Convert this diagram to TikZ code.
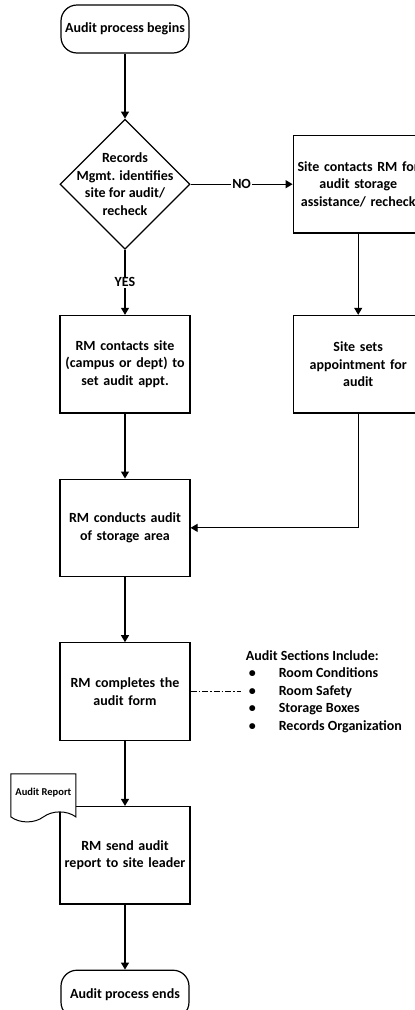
\documentclass[tikz,border=0pt]{standalone}
\usepackage{fontspec}
\setmainfont{Carlito}
\usetikzlibrary{shapes.geometric, shapes.symbols, arrows.meta, positioning}
\newcommand{\sectitem}[1]{\hspace*{3pt}\makebox[30pt][l]{\textbullet}#1}
\tikzset{
  block/.style={rectangle, draw=black, fill=white, line width=1.2pt,
                minimum width=130pt, minimum height=97.5pt,
                text width=124pt, align=center, inner sep=2pt},
  startstop/.style={rectangle, rounded corners=16pt, draw=black, fill=white,
                    line width=1.2pt, minimum width=128pt, minimum height=48pt,
                    inner xsep=2pt},
  decision/.style={diamond, draw=black, fill=white, line width=1.2pt,
                   minimum width=130pt, minimum height=130pt, inner sep=0pt},
  docnode/.style={tape, tape bend top=none, tape bend bottom=in and out,
                  tape bend height=10pt, draw=black, fill=white, line width=1pt,
                  minimum width=65pt, minimum height=48pt,
                  font=\fontsize{10.5}{12}\selectfont\bfseries},
  note/.style={align=left, inner sep=5pt},
  answer/.style={fill=white, inner sep=1pt},
  arrow/.style={-{Triangle[length=7pt, width=8pt]}, line width=1.2pt},
  link/.style={dash pattern=on 6pt off 2pt on 1.5pt off 2pt, line width=1pt},
}

\begin{document}
\begin{tikzpicture}[node distance=65pt, font=\fontsize{14}{17.5}\selectfont\bfseries]

  \useasboundingbox (-125pt,29pt) rectangle (290pt,-981pt);

  \node[startstop] (start) at (0,0) {Audit process begins};
  \node[decision, below=of start, label={[align=center]center:Records\\Mgmt. identifies\\site for audit/\\recheck}] (dec) {};
  \node[block, right=102pt of dec]  (site)    {Site contacts RM for\\audit storage\\assistance/ recheck};
  \node[block, below=of dec]        (contact) {RM contacts site\\(campus or dept) to\\set audit appt.};
  \node[block, right=102pt of contact] (appoint) {Site sets\\appointment for\\audit};
  \node[block, below=of contact]    (conduct)  {RM conducts audit\\of storage area};
  \node[block, below=of conduct]    (complete) {RM completes the\\audit form};
  \node[note, right=50pt of complete] (sections) {Audit Sections Include:\\
      \sectitem{Room Conditions}\\\sectitem{Room Safety}\\
      \sectitem{Storage Boxes}\\\sectitem{Records Organization}};
  \node[block, below=of complete]   (send)     {RM send audit\\report to site leader};
  \node[docnode, anchor=north east] (report) at ([xshift=17pt, yshift=32.5pt]send.north west) {Audit Report};
  \node[startstop, below=of send]   (finish)   {Audit process ends};

  \draw[arrow] (start)    -- (dec);
  \draw[arrow] (dec)      -- node[answer]{NO} (site);
  \draw[arrow] (dec)      -- node[answer]{YES} (contact);
  \draw[arrow] (site)     -- (appoint);
  \draw[arrow] (contact)  -- (conduct);
  \draw[arrow] (appoint)  |- (conduct);
  \draw[arrow] (conduct)  -- (complete);
  \draw[link]  (complete) -- (sections);
  \draw[arrow] (complete) -- (send);
  \draw[arrow] (send)     -- (finish);

\end{tikzpicture}
\end{document}
